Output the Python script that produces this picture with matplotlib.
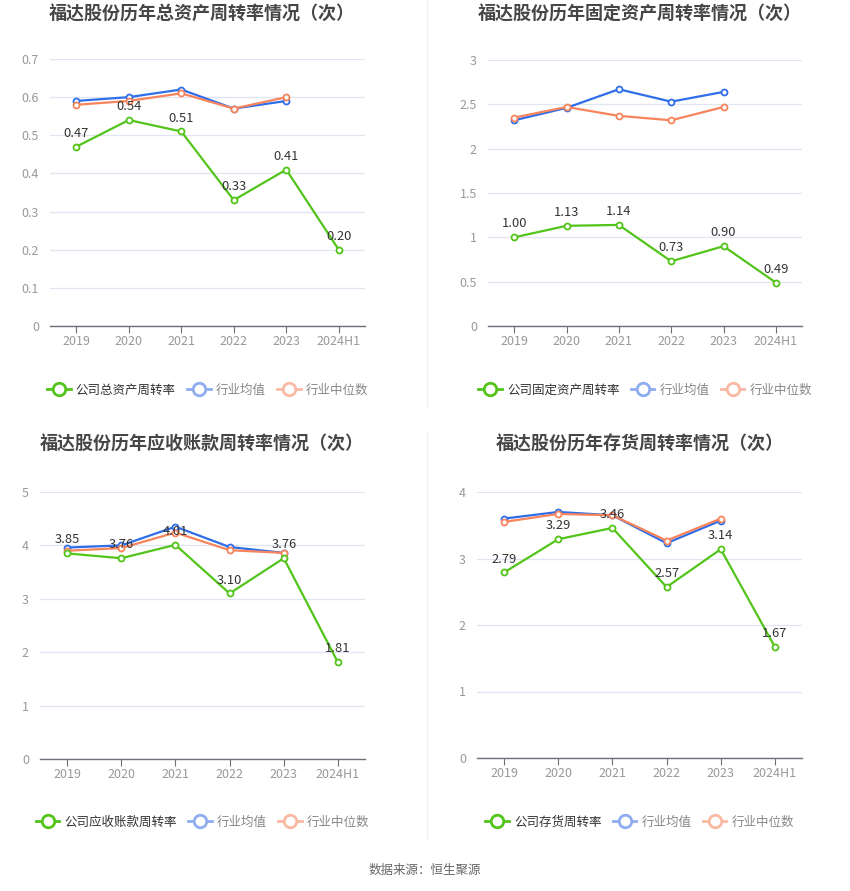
import matplotlib
matplotlib.use("Agg")
import matplotlib.pyplot as plt
from matplotlib.lines import Line2D

plt.rcParams['font.family'] = ['Noto Sans CJK SC', 'DejaVu Sans']

# ---- Data ----
years = ["2019", "2020", "2021", "2022", "2023", "2024H1"]

total_company = [0.47, 0.54, 0.51, 0.33, 0.41, 0.20]
total_avg     = [0.59, 0.60, 0.62, 0.57, 0.59]
total_median  = [0.58, 0.59, 0.61, 0.57, 0.60]

fixed_company = [1.00, 1.13, 1.14, 0.73, 0.90, 0.49]
fixed_avg     = [2.32, 2.46, 2.67, 2.53, 2.64]
fixed_median  = [2.35, 2.47, 2.37, 2.32, 2.47]

recv_company = [3.85, 3.76, 4.01, 3.10, 3.76, 1.81]
recv_avg     = [3.96, 4.00, 4.35, 3.97, 3.86]
recv_median  = [3.90, 3.95, 4.24, 3.91, 3.86]

inv_company = [2.79, 3.29, 3.46, 2.57, 3.14, 1.67]
inv_avg     = [3.60, 3.70, 3.65, 3.23, 3.57]
inv_median  = [3.55, 3.67, 3.65, 3.27, 3.60]

# ---- Style ----
GREEN  = "#52c41a"
BLUE   = "#2f6ee8"
ORANGE = "#f7845c"
GREEN_L  = "#52c41a"
BLUE_L   = "#8eadf0"
ORANGE_L = "#f9b9a2"
GRID   = "#e0e6f1"
AXIS   = "#6e7079"
TICK   = "#999999"

W, H = 850, 891
fig = plt.figure(figsize=(W / 100, H / 100), dpi=100)


def box(left, right, top, bottom):
    return [left / W, 1 - bottom / H, (right - left) / W, (bottom - top) / H]


panels = [
    dict(title="福达股份历年总资产周转率情况（次）", tx=202, ty=14,
         pos=box(50, 365, 59, 326), ymax=0.7, step=0.1,
         comp=total_company, avg=total_avg, med=total_median,
         label="公司总资产周转率", ly=390),
    dict(title="福达股份历年固定资产周转率情况（次）", tx=640, ty=14,
         pos=box(488, 802, 60, 326), ymax=3, step=0.5,
         comp=fixed_company, avg=fixed_avg, med=fixed_median,
         label="公司固定资产周转率", ly=390),
    dict(title="福达股份历年应收账款周转率情况（次）", tx=202, ty=444,
         pos=box(40, 365, 492, 759), ymax=5, step=1,
         comp=recv_company, avg=recv_avg, med=recv_median,
         label="公司应收账款周转率", ly=822),
    dict(title="福达股份历年存货周转率情况（次）", tx=640, ty=444,
         pos=box(477, 802, 492, 758), ymax=4, step=1,
         comp=inv_company, avg=inv_avg, med=inv_median,
         label="公司存货周转率", ly=822),
]


def fmt_tick(v):
    s = f"{v:.1f}"
    return s[:-2] if s.endswith(".0") else s


for p in panels:
    ax = fig.add_axes(p["pos"])
    x_all = list(range(len(years)))
    x_ind = x_all[:len(p["avg"])]

    ax.plot(x_ind, p["avg"], color=BLUE, lw=1.6, marker="o", ms=4.3,
            mfc="white", mec=BLUE, mew=1.3, zorder=3)
    ax.plot(x_ind, p["med"], color=ORANGE, lw=1.6, marker="o", ms=4.3,
            mfc="white", mec=ORANGE, mew=1.3, zorder=3)
    ax.plot(x_all, p["comp"], color=GREEN, lw=1.6, marker="o", ms=4.3,
            mfc="white", mec=GREEN, mew=1.3, zorder=4)

    for xi, v in zip(x_all, p["comp"]):
        ax.annotate(f"{v:.2f}", (xi, v), xytext=(0, 5), textcoords="offset points",
                    ha="center", va="bottom", fontsize=9.3, color="#333333", zorder=5)

    ax.set_xlim(-0.5, len(years) - 0.5)
    ax.set_ylim(0, p["ymax"])
    n = int(round(p["ymax"] / p["step"]))
    yt = [i * p["step"] for i in range(n + 1)]
    ax.set_yticks(yt)
    ax.set_yticklabels([fmt_tick(v) for v in yt])
    ax.set_xticks(x_all)
    ax.set_xticklabels(years)
    ax.tick_params(axis="y", length=0, pad=8, labelsize=9, labelcolor=TICK)
    ax.tick_params(axis="x", length=5, color=AXIS, pad=1.5, labelsize=9, labelcolor=TICK)
    ax.grid(axis="y", color=GRID, lw=0.9)
    ax.set_axisbelow(True)
    for s in ["top", "right", "left"]:
        ax.spines[s].set_visible(False)
    ax.spines["bottom"].set_color(AXIS)
    ax.spines["bottom"].set_linewidth(1)
    ax.spines["bottom"].set_zorder(2)

    fig.text(p["tx"] / W, 1 - p["ty"] / H, p["title"], ha="center", va="center",
             fontsize=13, fontweight="bold", color="#464646")

    handles = [
        Line2D([], [], color=GREEN_L, lw=2, marker="o", ms=9, mfc="white", mec=GREEN_L, mew=2),
        Line2D([], [], color=BLUE_L, lw=2, marker="o", ms=9, mfc="white", mec=BLUE_L, mew=2),
        Line2D([], [], color=ORANGE_L, lw=2, marker="o", ms=9, mfc="white", mec=ORANGE_L, mew=2),
    ]
    x0, y0, w, h = p["pos"]
    leg = fig.legend(handles, [p["label"], "行业均值", "行业中位数"],
                     loc="center", bbox_to_anchor=(x0 + w / 2, 1 - p["ly"] / H),
                     ncol=3, frameon=False, fontsize=9, handlelength=1.9,
                     handletextpad=0.4, columnspacing=0.9)
    cols = ["#333333", "#888888", "#888888"]
    for t, c in zip(leg.get_texts(), cols):
        t.set_color(c)

# divider lines between columns
fig.add_artist(Line2D([427 / W, 427 / W], [1 - 0 / H, 1 - 408 / H], color="#f0f0f0", lw=1))
fig.add_artist(Line2D([427 / W, 427 / W], [1 - 432 / H, 1 - 840 / H], color="#f0f0f0", lw=1))

fig.text(425 / W, 1 - 870 / H, "数据来源：恒生聚源", ha="center", va="center",
         fontsize=9, color="#666666")

plt.savefig("out.png", dpi=100)
